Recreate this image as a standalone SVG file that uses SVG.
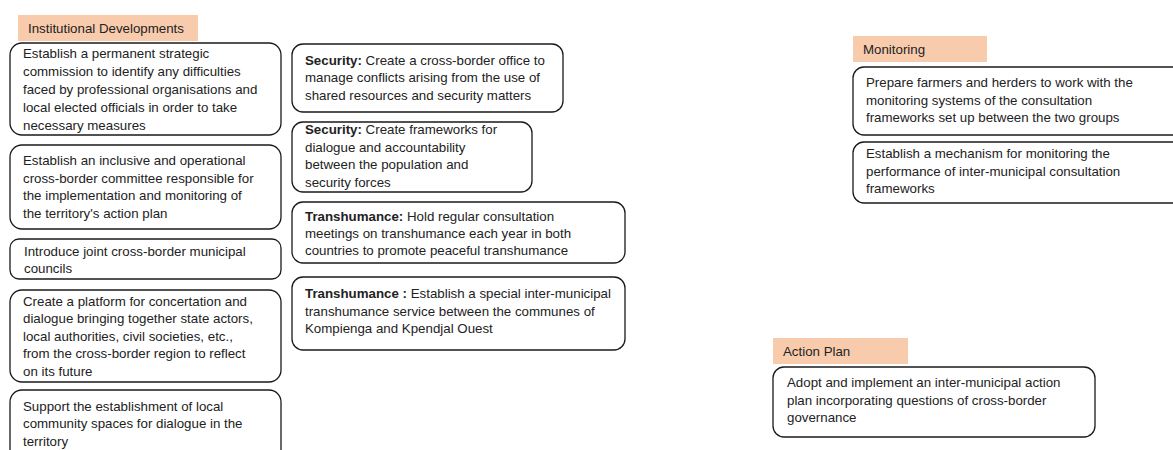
<svg xmlns="http://www.w3.org/2000/svg" width="1173" height="450" viewBox="0 0 1173 450">
<style>
.bg{fill:#ffffff}
.hdr{fill:#f8cbad}
.box{fill:#ffffff;stroke:#1a1a1a;stroke-width:1.3}
text{font-family:"Liberation Sans",Arial,sans-serif;font-size:13.3px;fill:#222222}
.b{font-weight:bold}
</style>
<rect class="bg" x="0" y="0" width="1173" height="450"/>
<g id="connectors"></g>
<g id="hdr-institutional">
<rect class="hdr" x="18" y="15" width="180" height="26"/>
<text x="28" y="33">Institutional Developments</text>
</g>
<g id="inst-1">
<rect class="box" x="10" y="43" width="271" height="92" rx="12"/>
<text x="23" y="58">Establish a permanent strategic</text>
<text x="23" y="76">commission to identify any difficulties</text>
<text x="23" y="94">faced by professional organisations and</text>
<text x="23" y="112">local elected officials in order to take</text>
<text x="23" y="130">necessary measures</text>
</g>
<g id="inst-2">
<rect class="box" x="10" y="145" width="271" height="84" rx="12"/>
<text x="23" y="165">Establish an inclusive and operational</text>
<text x="23" y="183">cross-border committee responsible for</text>
<text x="23" y="200">the implementation and monitoring of</text>
<text x="23" y="218">the territory's action plan</text>
</g>
<g id="inst-3">
<rect class="box" x="10" y="239" width="271" height="40" rx="9"/>
<text x="24" y="256">Introduce joint cross-border municipal</text>
<text x="24" y="273">councils</text>
</g>
<g id="inst-4">
<rect class="box" x="10" y="290" width="271" height="92" rx="12"/>
<text x="23" y="306">Create a platform for concertation and</text>
<text x="23" y="323">dialogue bringing together state actors,</text>
<text x="23" y="341">local authorities, civil societies, etc.,</text>
<text x="23" y="358">from the cross-border region to reflect</text>
<text x="23" y="376">on its future</text>
</g>
<g id="inst-5">
<rect class="box" x="10" y="390" width="271" height="80" rx="12"/>
<text x="23" y="411">Support the establishment of local</text>
<text x="23" y="428">community spaces for dialogue in the</text>
<text x="23" y="446">territory</text>
</g>
<g id="sec-1">
<rect class="box" x="292" y="44" width="271" height="68" rx="11"/>
<text x="305" y="65"><tspan class="b">Security:</tspan> Create a cross-border office to</text>
<text x="305" y="82">manage conflicts arising from the use of</text>
<text x="305" y="100">shared resources and security matters</text>
</g>
<g id="sec-2">
<rect class="box" x="292" y="122" width="240" height="70" rx="11"/>
<text x="305" y="134"><tspan class="b">Security:</tspan> Create frameworks for</text>
<text x="305" y="152">dialogue and accountability</text>
<text x="305" y="169">between the population and</text>
<text x="305" y="187">security forces</text>
</g>
<g id="trans-1">
<rect class="box" x="292" y="202" width="333" height="61" rx="11"/>
<text x="305" y="221"><tspan class="b">Transhumance:</tspan> Hold regular consultation</text>
<text x="305" y="238">meetings on transhumance each year in both</text>
<text x="305" y="255">countries to promote peaceful transhumance</text>
</g>
<g id="trans-2">
<rect class="box" x="292" y="277" width="333" height="73" rx="11"/>
<text x="305" y="298"><tspan class="b">Transhumance :</tspan> Establish a special inter-municipal</text>
<text x="305" y="316">transhumance service between the communes of</text>
<text x="305" y="333">Kompienga and Kpendjal Ouest</text>
</g>
<g id="hdr-monitoring">
<rect class="hdr" x="853" y="36" width="134" height="26"/>
<text x="863" y="54">Monitoring</text>
</g>
<g id="mon-1">
<rect class="box" x="853" y="67" width="340" height="68" rx="11"/>
<text x="866" y="87">Prepare farmers and herders to work with the</text>
<text x="866" y="105">monitoring systems of the consultation</text>
<text x="866" y="122">frameworks set up between the two groups</text>
</g>
<g id="mon-2">
<rect class="box" x="853" y="142" width="340" height="61" rx="11"/>
<text x="866" y="158">Establish a mechanism for monitoring the</text>
<text x="866" y="176">performance of inter-municipal consultation</text>
<text x="866" y="193">frameworks</text>
</g>
<g id="hdr-action">
<rect class="hdr" x="773" y="338" width="135" height="26"/>
<text x="783" y="356">Action Plan</text>
</g>
<g id="action-1">
<rect class="box" x="773" y="367" width="322" height="70" rx="11"/>
<text x="787" y="387">Adopt and implement an inter-municipal action</text>
<text x="787" y="405">plan incorporating questions of cross-border</text>
<text x="787" y="422">governance</text>
</g>
</svg>
